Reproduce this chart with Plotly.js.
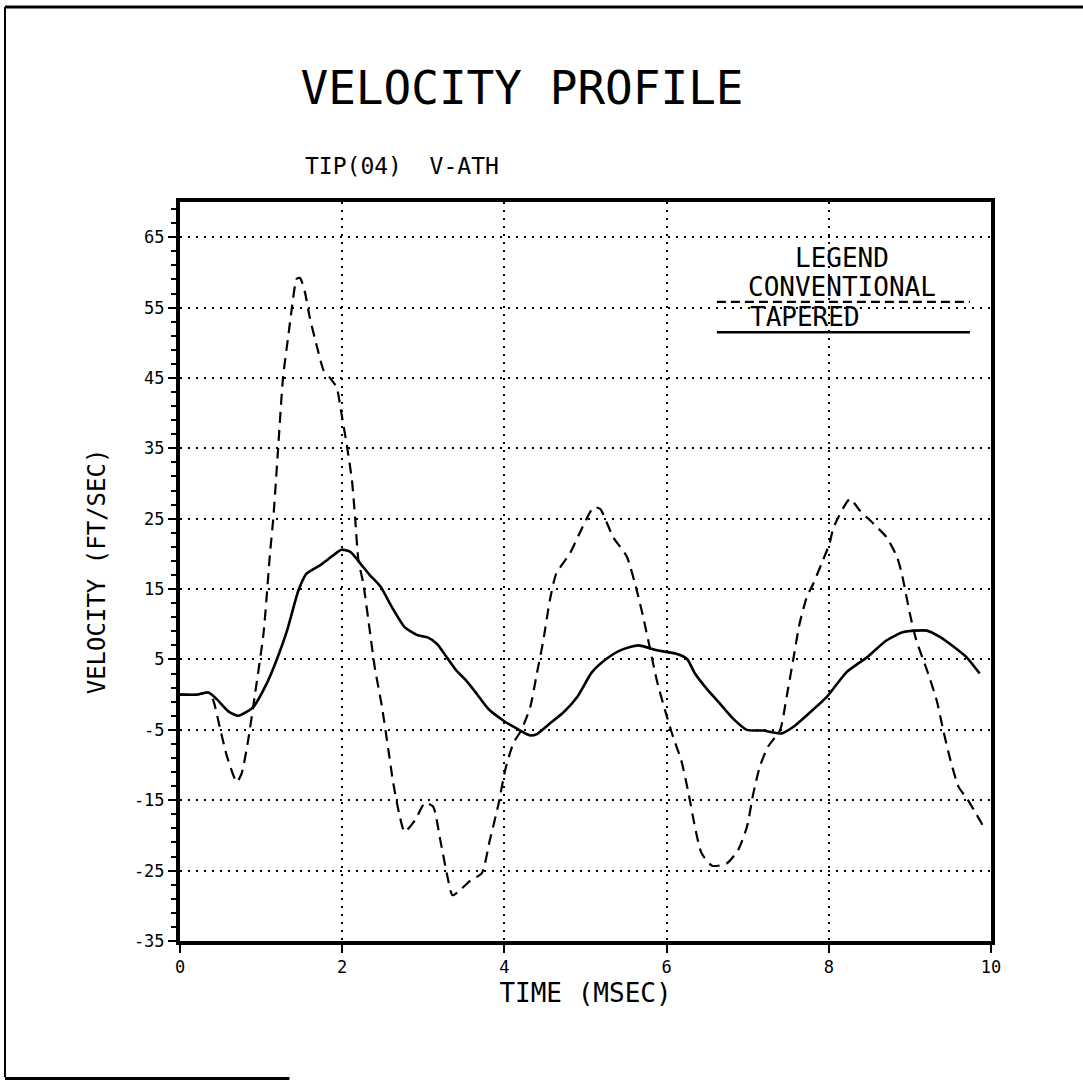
<!DOCTYPE html>
<html>
<head>
<meta charset="utf-8">
<script src="https://cdn.plot.ly/plotly-3.0.1.min.js"></script>
<style>
  html, body { margin: 0; padding: 0; background: #ffffff; }
  #chart { width: 1083px; height: 1080px; }
</style>
</head>
<body>
<div id="chart"></div>
<script>
// ---- Data ----
const taperedX = [0, 0.2, 0.35, 0.45, 0.6, 0.72, 0.9, 1.07, 1.19, 1.32, 1.46, 1.56, 1.73, 1.89, 1.99, 2.10, 2.22, 2.34, 2.47, 2.61, 2.77, 2.92, 3.06, 3.17, 3.29, 3.41, 3.53, 3.66, 3.80, 3.99, 4.15, 4.32, 4.40, 4.56, 4.73, 4.90, 5.08, 5.26, 5.43, 5.65, 5.88, 6.12, 6.25, 6.35, 6.49, 6.66, 6.82, 6.99, 7.19, 7.42, 7.56, 7.77, 7.97, 8.22, 8.47, 8.71, 8.92, 9.21, 9.37, 9.54, 9.70, 9.86];
const taperedY = [0, 0, 0.3, -0.6, -2.4, -3.0, -1.8, 1.6, 4.9, 9.1, 14.8, 17.2, 18.4, 19.8, 20.6, 20.3, 18.7, 17.0, 15.4, 12.5, 9.6, 8.5, 8.1, 7.2, 5.3, 3.4, 2.0, 0.1, -2.0, -3.7, -4.8, -5.8, -5.6, -4.1, -2.5, -0.3, 3.2, 5.1, 6.3, 7.0, 6.3, 5.8, 5.1, 3.0, 0.9, -1.3, -3.4, -5.0, -5.1, -5.5, -4.6, -2.5, -0.4, 3.2, 5.3, 7.7, 8.9, 9.1, 8.2, 6.8, 5.3, 3.0];

const conventionalX = [0, 0.2, 0.35, 0.41, 0.49, 0.58, 0.70, 0.76, 0.84, 0.92, 1.03, 1.11, 1.15, 1.21, 1.27, 1.34, 1.38, 1.44, 1.48, 1.54, 1.60, 1.69, 1.77, 1.85, 1.93, 1.99, 2.06, 2.12, 2.16, 2.20, 2.26, 2.34, 2.40, 2.49, 2.57, 2.63, 2.71, 2.77, 2.90, 3.02, 3.12, 3.21, 3.29, 3.36, 3.45, 3.58, 3.72, 3.82, 3.93, 4.01, 4.11, 4.21, 4.32, 4.40, 4.48, 4.56, 4.64, 4.81, 4.93, 5.10, 5.18, 5.34, 5.51, 5.63, 5.71, 5.80, 5.88, 5.98, 6.08, 6.18, 6.27, 6.35, 6.43, 6.56, 6.74, 6.88, 6.99, 7.07, 7.15, 7.25, 7.40, 7.48, 7.56, 7.64, 7.73, 7.81, 7.91, 8.01, 8.06, 8.26, 8.38, 8.55, 8.71, 8.84, 8.90, 9.00, 9.08, 9.21, 9.33, 9.41, 9.50, 9.60, 9.70, 9.80, 9.91];
const conventionalY = [0, 0, 0.3, -0.8, -4.6, -8.8, -12.4, -11.2, -6.5, -0.3, 8.7, 20.1, 25, 35, 45, 51.4, 55, 59.1, 59.2, 57.2, 53.6, 49.4, 46.1, 45, 43.7, 40, 35.2, 30.5, 25, 19.1, 15.8, 9.1, 4.0, -1.7, -7.9, -12.6, -17.3, -19.5, -17.8, -15.4, -15.9, -20.7, -25.4, -28.5, -27.8, -26.4, -25.4, -20.7, -15.4, -10.7, -6.9, -5, -1.7, 3.0, 7.7, 13.4, 17.2, 20.1, 23.0, 26.6, 26.4, 22.4, 19.6, 14.9, 11.1, 6.3, 2.0, -2.2, -6.0, -9.3, -14.0, -18.8, -22.5, -24.3, -24.0, -22.1, -18.8, -14.0, -10.2, -7.4, -5.0, -0.3, 4.9, 10.1, 13.9, 15.8, 18.6, 21.5, 23.8, 27.8, 26.2, 24.3, 22.4, 19.6, 17.2, 11.5, 7.7, 3.5, -0.8, -5.0, -9.3, -13.1, -14.7, -16.6, -18.8];

const xTickVals = [0, 2, 4, 6, 8, 10];
const xTickText = ['0', '2', '4', '6', '8', '10'];
const yTickVals = [-35, -25, -15, -5, 5, 15, 25, 35, 45, 55, 65];
const yTickText = ['-35', '-25', '-15', '-5', '5', '15', '25', '35', '45', '55', '65'];

const seriesNames = ['CONVENTIONAL', 'TAPERED'];
const titleText = 'VELOCITY PROFILE';
const subtitleText = 'TIP(04)&nbsp;&nbsp;V-ATH';

const FONT = 'DejaVu Sans Mono, Liberation Mono, monospace';

const traces = [
  {
    x: conventionalX, y: conventionalY, name: seriesNames[0],
    type: 'scatter', mode: 'lines',
    line: {color: '#000', width: 2.2, dash: '11px,7px', shape: 'spline', smoothing: 0.6},
    showlegend: false, hoverinfo: 'skip'
  },
  {
    x: taperedX, y: taperedY, name: seriesNames[1],
    type: 'scatter', mode: 'lines',
    line: {color: '#000', width: 2.6, shape: 'spline', smoothing: 0.6},
    showlegend: false, hoverinfo: 'skip'
  }
];

const layout = {
  width: 1083, height: 1080,
  margin: {l: 180, r: 92, t: 202, b: 139},
  paper_bgcolor: '#fff', plot_bgcolor: '#fff',
  font: {family: FONT, color: '#000', size: 17},
  showlegend: false,
  title: {
    text: titleText,
    font: {family: FONT, size: 46, color: '#000'},
    xref: 'container', yref: 'container',
    x: 0.482, xanchor: 'center', y: 1 - 88 / 1080, yanchor: 'middle'
  },
  xaxis: {
    range: [0, 10], fixedrange: true,
    tickmode: 'array', tickvals: xTickVals, ticktext: xTickText,
    ticks: 'outside', ticklen: 8, tickwidth: 2, tickcolor: '#000',
    tickfont: {family: FONT, size: 17, color: '#000'},
    showline: true, linewidth: 4, linecolor: '#000', mirror: true,
    showgrid: true, gridcolor: '#000', gridwidth: 2, griddash: '2px,6px',
    zeroline: false,
    title: {text: 'TIME (MSEC)', font: {family: FONT, size: 26, color: '#000'}, standoff: 8}
  },
  yaxis: {
    range: [-35, 70], fixedrange: true,
    tickmode: 'array', tickvals: yTickVals, ticktext: yTickText,
    ticks: 'outside', ticklen: 8, tickwidth: 2, tickcolor: '#000',
    tickfont: {family: FONT, size: 17, color: '#000'},
    minor: {tickmode: 'linear', tick0: -35, dtick: 2, ticks: 'outside', ticklen: 5, tickwidth: 2, tickcolor: '#000', showgrid: false},
    showline: true, linewidth: 4, linecolor: '#000', mirror: true,
    showgrid: true, gridcolor: '#000', gridwidth: 2, griddash: '2px,6px',
    zeroline: false,
    title: {text: 'VELOCITY (FT/SEC)', font: {family: FONT, size: 24, color: '#000'}, standoff: 22}
  },
  annotations: [
    {text: subtitleText, xref: 'paper', yref: 'paper', x: 0.1517, y: 1.0487,
     xanchor: 'left', yanchor: 'middle', showarrow: false,
     font: {family: FONT, size: 23, color: '#000'}},
    {text: 'LEGEND', xref: 'x', yref: 'y', x: 8.16, y: 62.0,
     xanchor: 'center', yanchor: 'middle', showarrow: false,
     font: {family: FONT, size: 26, color: '#000'}},
    {text: seriesNames[0], xref: 'x', yref: 'y', x: 8.16, y: 57.9,
     xanchor: 'center', yanchor: 'middle', showarrow: false,
     font: {family: FONT, size: 26, color: '#000'}},
    {text: seriesNames[1], xref: 'x', yref: 'y', x: 7.0, y: 53.7,
     xanchor: 'left', yanchor: 'middle', showarrow: false,
     font: {family: FONT, size: 26, color: '#000'}}
  ],
  shapes: [
    // legend samples
    {type: 'line', xref: 'x', yref: 'y', x0: 6.62, x1: 9.74, y0: 55.8, y1: 55.8,
     line: {color: '#000', width: 2.2, dash: '9px,5px'}},
    {type: 'line', xref: 'x', yref: 'y', x0: 6.62, x1: 9.74, y0: 51.5, y1: 51.5,
     line: {color: '#000', width: 2.6}},
    // outer page frame
    {type: 'line', xref: 'paper', yref: 'paper', x0: -0.2158, x1: 1.12, y0: 1.264, y1: 1.264,
     line: {color: '#000', width: 3}},
    {type: 'line', xref: 'paper', yref: 'paper', x0: -0.2158, x1: -0.2158, y0: 1.264, y1: -0.184,
     line: {color: '#000', width: 2}},
    {type: 'line', xref: 'paper', yref: 'paper', x0: -0.2158, x1: 0.135, y0: -0.186, y1: -0.186,
     line: {color: '#000', width: 3}}
  ]
};

Plotly.newPlot('chart', traces, layout, {displayModeBar: false, staticPlot: true});
</script>
</body>
</html>
